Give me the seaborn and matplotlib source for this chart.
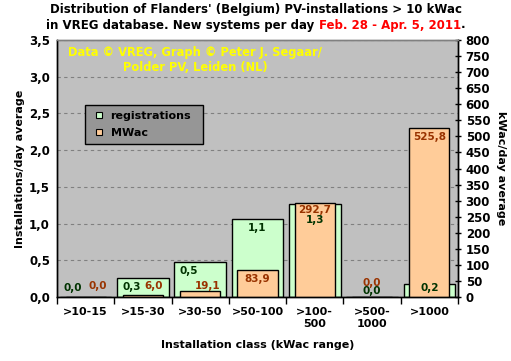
import pandas as pd
import matplotlib.pyplot as plt
import seaborn as sns
from matplotlib.lines import Line2D
from matplotlib.ticker import FixedLocator, FuncFormatter

# Data
classes = ['>10-15', '>15-30', '>30-50', '>50-100', '>100-\n500', '>500-\n1000', '>1000']
registrations = [0.0, 0.26, 0.48, 1.06, 1.26, 0.0, 0.18]
mwac = [0.0, 6.0, 19.1, 83.9, 292.7, 0.0, 525.8]

df = pd.DataFrame({'cls': classes, 'reg': registrations, 'mw': mwac})

green = '#CCFFCC'
orange = '#FFCC99'
green_txt = '#003300'
orange_txt = '#993300'

sns.set_theme(style='white')
plt.rcParams['font.family'] = ['DejaVu Sans']
plt.rcParams['font.weight'] = 'bold'
plt.rcParams['text.color'] = 'black'
plt.rcParams['axes.labelcolor'] = 'black'
plt.rcParams['xtick.color'] = 'black'
plt.rcParams['ytick.color'] = 'black'

fig = plt.figure(figsize=(5.11, 3.61), dpi=100)
ax = fig.add_axes([57 / 511, 1 - 297 / 361, 401 / 511, 257 / 361])
ax.set_facecolor('#C0C0C0')

sns.barplot(data=df, x='cls', y='reg', color=green, saturation=1, width=0.9,
            edgecolor='black', linewidth=1, ax=ax)
ax2 = ax.twinx()
sns.barplot(data=df, x='cls', y='mw', color=orange, saturation=1, width=0.7,
            edgecolor='black', linewidth=1, ax=ax2)

ax.set_ylim(0, 3.5)
ax2.set_ylim(0, 800)
ax.set_xlim(-0.5, 6.5)
ax.set_yticks([i * 0.5 for i in range(8)])
ax2.set_yticks(range(0, 801, 50))
ax.yaxis.set_major_formatter(FuncFormatter(lambda v, p: f'{v:.1f}'.replace('.', ',')))
ax.set_axisbelow(True)
ax.grid(axis='y', color='#808080', linestyle=(0, (3, 3)), linewidth=0.8)
ax2.grid(False)

# x ticks: labels at centres, tick marks at category boundaries
ax.set_xticks(range(7))
ax.set_xticklabels(classes, fontsize=8, fontweight='bold', linespacing=1.3)
ax.tick_params(axis='x', which='major', length=0, pad=7)
ax.xaxis.set_minor_locator(FixedLocator([i - 0.5 for i in range(8)]))
ax.tick_params(axis='x', which='minor', length=5, width=1, color='black', bottom=True)
ax.tick_params(axis='y', length=0, labelsize=8.5, pad=5)
ax2.tick_params(axis='y', length=5, width=1, color='black', right=True, direction='inout',
                labelsize=8.5, pad=3)
for lab in ax.get_yticklabels() + ax2.get_yticklabels():
    lab.set_fontweight('bold')

for a in (ax, ax2):
    for s in ('left', 'right', 'bottom'):
        a.spines[s].set_color('black')
        a.spines[s].set_linewidth(1)
    a.spines['top'].set_color('#808080')
    a.spines['top'].set_linewidth(1)

ax.set_xlabel('Installation class (kWac range)', fontsize=8, fontweight='bold', labelpad=8)
ax.set_ylabel('Installations/day average', fontsize=8, fontweight='bold', labelpad=3)
ax2.set_ylabel('kWac/day average', fontsize=8, fontweight='bold', rotation=-90, labelpad=11)

# value labels
nudge = [(-9, 9), (-8, 8), (-8, 5), (0, 0), (0, 0), (0, 0), (0, 0)]
for i in range(7):
    r = registrations[i]
    m = mwac[i]
    ry = max(r - 9 * 3.5 / 257, 9 * 3.5 / 257)
    my = max(m - 9 * 800 / 257, 11 * 800 / 257)
    dy_r, dy_m = 0, 0
    if i == 4:
        my = m - 7 * 800 / 257
        ry = (m - 17 * 800 / 257) * 3.5 / 800
    if r == 0 and m == 0 and i > 0:
        dy_r, dy_m = -2, 2
    ax2.annotate(f'{m:.1f}'.replace('.', ','), xy=(i, my), xytext=(nudge[i][1], dy_m),
                 textcoords='offset points', ha='center', va='center',
                 fontsize=7.5, fontweight='bold', color=orange_txt)
    ax2.annotate(f'{r:.1f}'.replace('.', ','), xy=(i, ry), xycoords=ax.transData,
                 xytext=(nudge[i][0], dy_r), textcoords='offset points',
                 ha='center', va='center', fontsize=7.5, fontweight='bold', color=green_txt)

# legend
handles = [Line2D([], [], linestyle='none', marker='s', markersize=5, markerfacecolor=c,
                  markeredgecolor='black', markeredgewidth=0.8) for c in (green, orange)]
leg = ax2.legend(handles, ['registrations', 'MWac'], loc='upper left',
                 bbox_to_anchor=(28 / 401, 153 / 257, 118 / 401, 39 / 257), mode='expand',
                 fancybox=False, frameon=True, facecolor='#969696', edgecolor='black',
                 framealpha=1, handlelength=1.6, handletextpad=0.2,
                 borderpad=0.5, labelspacing=0.7, prop={'size': 8, 'weight': 'bold'},
                 borderaxespad=0)
leg.get_frame().set_linewidth(1)

# copyright note
ax2.text(195 / 511, 1 - 60 / 361, 'Data © VREG, Graph © Peter J. Segaar/\nPolder PV, Leiden (NL)',
         transform=fig.transFigure, ha='center', va='center', color='#FFFF00',
         fontsize=8.3, fontweight='bold', linespacing=1.2)

# title
fig.text(256 / 511, 1 - 10 / 361, "Distribution of Flanders' (Belgium) PV-installations > 10 kWac",
         ha='center', va='center', fontsize=8.5, fontweight='bold', color='black')
parts = [('in VREG database. New systems per day ', 'black'),
         ('Feb. 28 - Apr. 5, 2011', '#FF0000'), ('.', 'black')]
texts = [fig.text(0, 1 - 25 / 361, p, ha='left', va='center', fontsize=8.5,
                  fontweight='bold', color=c) for p, c in parts]
fig.canvas.draw()
r = fig.canvas.get_renderer()
widths = [t.get_window_extent(r).width / fig.bbox.width for t in texts]
x0 = 256 / 511 - sum(widths) / 2
for t, w in zip(texts, widths):
    t.set_x(x0)
    x0 += w

fig.savefig('out.png', dpi=100, facecolor='white')
